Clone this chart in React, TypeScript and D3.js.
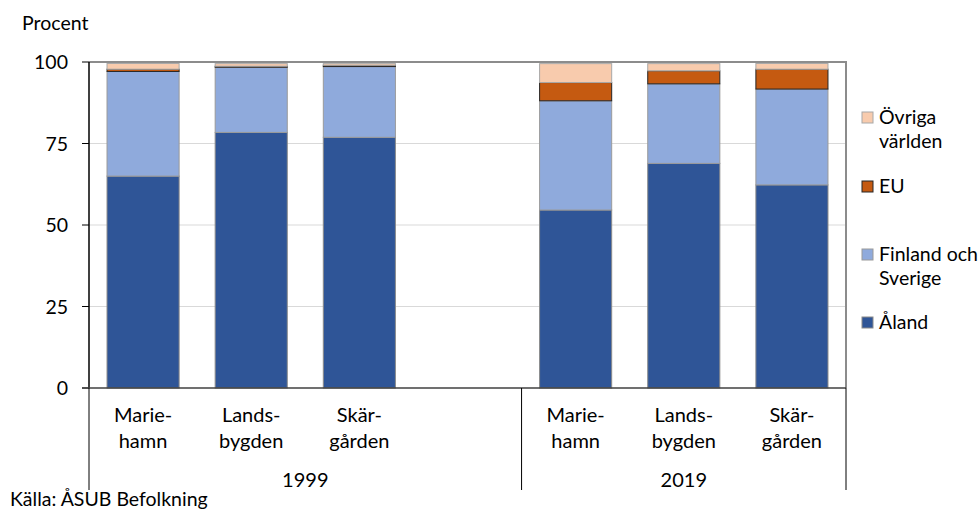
import React, { useEffect, useRef } from "react";
import * as d3 from "d3";

const width = 979;
const height = 509;

const years = ["1999", "2019"];
const areas = [
  ["Marie-", "hamn"],
  ["Lands-", "bygden"],
  ["Skär-", "gården"],
];
// slots: 3 areas 1999, empty slot, 3 areas 2019
const slots = ["m99", "l99", "s99", "gap", "m19", "l19", "s19"];

const aland = [65.0, 78.4, 76.9, 0, 54.6, 68.9, 62.3];
const finlandSverige = [32.1, 20.0, 21.7, 0, 33.5, 24.4, 29.4];
const eu = [0.7, 0.3, 0.4, 0, 5.6, 4.0, 6.1];
const ovriga = [1.75, 0.8, 0.5, 0, 5.8, 2.2, 1.75];

const seriesKeys = ["aland", "fs", "eu", "ovr"];
const seriesColors = ["#2F5597", "#8FAADC", "#C55A11", "#F8CBAD"];
const seriesStroke = ["#8a8a8a", "#9a9a9a", "#262626", "#a8a8a8"];
const legendLabels = [["Åland"], ["Finland och", "Sverige"], ["EU"], ["Övriga", "världen"]];
const yTicks = [0, 25, 50, 75, 100];

const font = "Lato, 'Open Sans', sans-serif";
const fs = 19.5;

export default function App() {
  const ref = useRef(null);

  useEffect(() => {
    const svg = d3.select(ref.current);
    svg.selectAll("*").remove();

    const left = 89;
    const right = 846;
    const top = 62;
    const bottom = 388;

    const x = d3
      .scaleBand<string>()
      .domain(slots)
      .range([left, right])
      .paddingInner(1 / 3)
      .paddingOuter(1 / 6);
    const y = d3.scaleLinear().domain([0, 100]).range([bottom, top]);

    // gridlines
    svg
      .append("g")
      .selectAll("line")
      .data(yTicks.filter((t) => t > 0 && t < 100))
      .join("line")
      .attr("x1", left)
      .attr("x2", right)
      .attr("y1", (d) => y(d))
      .attr("y2", (d) => y(d))
      .attr("stroke", "#d9d9d9")
      .attr("stroke-width", 1);

    // plot border top/right
    svg
      .append("path")
      .attr("d", `M${left},${y(100)}H${right}V${bottom}`)
      .attr("fill", "none")
      .attr("stroke", "#8c8c8c")
      .attr("stroke-width", 2);

    const rows = slots.map((s, i) => ({
      slot: s,
      aland: aland[i],
      fs: finlandSverige[i],
      eu: eu[i],
      ovr: ovriga[i],
    }));
    const stacked = d3.stack<any>().keys(seriesKeys)(rows);

    stacked.forEach((layer, li) => {
      svg
        .append("g")
        .selectAll("rect")
        .data(layer.filter((d) => d.data.slot !== "gap"))
        .join("rect")
        .attr("x", (d) => x(d.data.slot)!)
        .attr("width", x.bandwidth())
        .attr("y", (d) => y(d[1]))
        .attr("height", (d) => y(d[0]) - y(d[1]))
        .attr("fill", seriesColors[li])
        .attr("stroke", seriesStroke[li])
        .attr("stroke-width", 1);
    });

    // y axis
    const yAxis = svg.append("g");
    yAxis
      .append("line")
      .attr("x1", left)
      .attr("x2", left)
      .attr("y1", top)
      .attr("y2", bottom)
      .attr("stroke", "#000")
      .attr("stroke-width", 1.5);
    yAxis
      .selectAll("line.tick")
      .data(yTicks)
      .join("line")
      .attr("class", "tick")
      .attr("x1", left - 7)
      .attr("x2", left)
      .attr("y1", (d) => y(d))
      .attr("y2", (d) => y(d))
      .attr("stroke", "#000")
      .attr("stroke-width", 1);
    yAxis
      .selectAll("text")
      .data(yTicks)
      .join("text")
      .attr("x", left - 21)
      .attr("y", (d) => y(d))
      .attr("dy", "0.36em")
      .attr("text-anchor", "end")
      .attr("font-family", font)
      .attr("font-size", fs)
      .attr("fill", "#000")
      .text((d) => d);

    svg
      .append("text")
      .attr("x", 22)
      .attr("y", 30)
      .attr("font-family", font)
      .attr("font-size", fs)
      .attr("fill", "#000")
      .text("Procent");

    // x axis
    svg
      .append("line")
      .attr("x1", left - 7)
      .attr("x2", right)
      .attr("y1", bottom)
      .attr("y2", bottom)
      .attr("stroke", "#404040")
      .attr("stroke-width", 1.5);

    const step = x.step();
    const seps = [left, left + 4 * step, right];
    svg
      .append("g")
      .selectAll("line")
      .data(seps)
      .join("line")
      .attr("x1", (d) => d)
      .attr("x2", (d) => d)
      .attr("y1", bottom)
      .attr("y2", 490)
      .attr("stroke", "#000")
      .attr("stroke-width", 1);

    const labelSlots = ["m99", "l99", "s99", "m19", "l19", "s19"];
    labelSlots.forEach((s, i) => {
      const lines = areas[i % 3];
      const cx = x(s)! + x.bandwidth() / 2;
      lines.forEach((ln, j) => {
        svg
          .append("text")
          .attr("x", cx)
          .attr("y", 422 + j * 26)
          .attr("text-anchor", "middle")
          .attr("font-family", font)
          .attr("font-size", 20)
          .attr("fill", "#000")
          .text(ln);
      });
    });

    years.forEach((yr, i) => {
      const cx = i === 0 ? (seps[0] + seps[1]) / 2 : (seps[1] + seps[2]) / 2;
      svg
        .append("text")
        .attr("x", cx)
        .attr("y", 487)
        .attr("text-anchor", "middle")
        .attr("font-family", font)
        .attr("font-size", 20)
        .attr("fill", "#000")
        .text(yr);
    });

    // legend (top to bottom: Övriga, EU, Finland och Sverige, Åland)
    const legendY = [117, 186, 254, 322];
    const order = [3, 2, 1, 0];
    order.forEach((si, k) => {
      const cy = legendY[k];
      svg
        .append("rect")
        .attr("x", 862)
        .attr("y", cy - 5)
        .attr("width", 11)
        .attr("height", 11)
        .attr("fill", seriesColors[si])
        .attr("stroke", seriesStroke[si])
        .attr("stroke-width", 1);
      legendLabels[si].forEach((ln, j) => {
        svg
          .append("text")
          .attr("x", 879)
          .attr("y", cy + j * 24)
          .attr("dy", "0.36em")
          .attr("font-family", font)
          .attr("font-size", fs)
          .attr("fill", "#000")
          .text(ln);
      });
    });

    svg
      .append("text")
      .attr("x", 10)
      .attr("y", 506)
      .attr("font-family", font)
      .attr("font-size", fs)
      .attr("fill", "#000")
      .text("Källa: ÅSUB Befolkning");
  }, []);

  return (
    <svg
      ref={ref}
      width={width}
      height={height}
      style={{ position: "absolute", left: 0, top: 0, background: "#fff" }}
    />
  );
}
